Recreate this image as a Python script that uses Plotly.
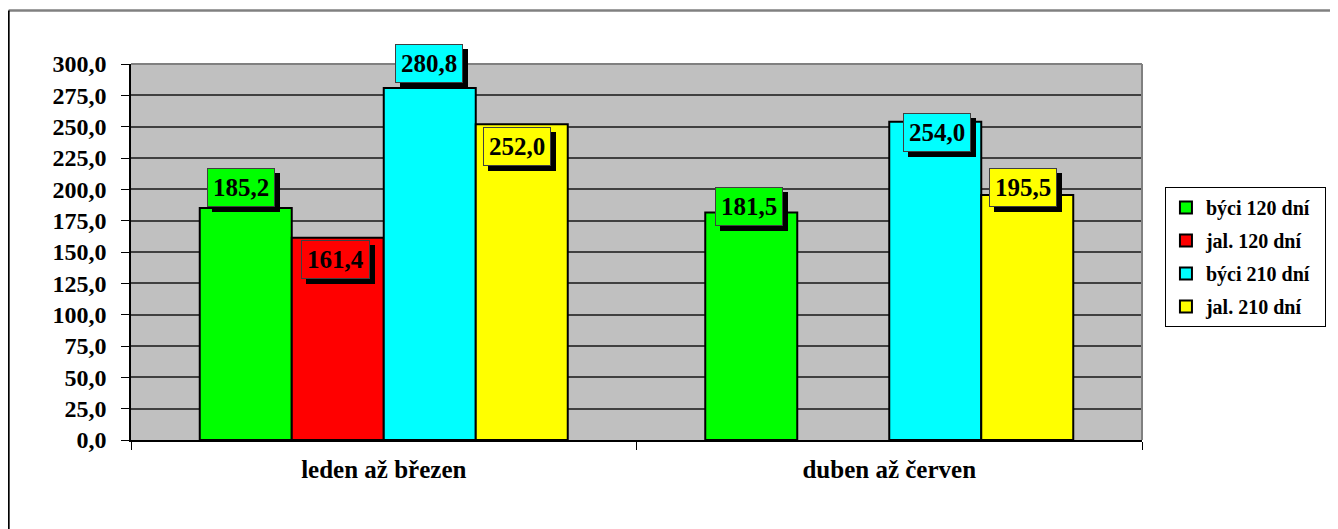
import plotly.graph_objects as go

categories = ["leden až březen", "duben až červen"]
series_names = ["býci 120 dní", "jal. 120 dní", "býci 210 dní", "jal. 210 dní"]
bulls_120 = [185.2, 181.5]
heifers_120 = [161.4, None]
bulls_210 = [280.8, 254.0]
heifers_210 = [252.0, 195.5]
series_values = [bulls_120, heifers_120, bulls_210, heifers_210]
y_ticks = [0, 25, 50, 75, 100, 125, 150, 175, 200, 225, 250, 275, 300]

colors = ["#00FF00", "#FF0000", "#00FFFF", "#FFFF00"]
# label offsets in pixels (x, y) relative to bar top, per series per category
label_dx = [[-5, -2], [-2, 0], [-1, 2], [-5, -4]]
label_dy = [[20, 6], [-22, 0], [25, -11], [-22, 7]]

FONT = "Liberation Serif"
BARGAP = 0.272
W = (1 - BARGAP) / 4
PAD = "\u00a0\u00a0"  # trailing space inside the legend box

fig = go.Figure()
for i, (name, vals) in enumerate(zip(series_names, series_values)):
    fig.add_trace(go.Bar(
        x=categories, y=vals, name=name + PAD,
        marker=dict(color=colors[i], line=dict(color="black", width=2)),
        legendgroup=name,
    ))

annotations = []
for i, vals in enumerate(series_values):
    for c, v in enumerate(vals):
        if v is None:
            continue
        xpos = c + (i - 1.5) * W
        txt = f"<b>{v:.1f}</b>".replace(".", ",")
        common = dict(x=xpos, y=v, xref="x", yref="y", showarrow=False,
                      borderpad=5, borderwidth=1)
        annotations.append(dict(common, text=txt, bgcolor="black", bordercolor="black",
                                font=dict(family=FONT, size=25, color="black"),
                                xshift=label_dx[i][c] + 5, yshift=label_dy[i][c] - 5))
        annotations.append(dict(common, text=txt, bgcolor=colors[i], bordercolor="#404040",
                                font=dict(family=FONT, size=25, color="black"),
                                xshift=label_dx[i][c], yshift=label_dy[i][c]))

fig.update_layout(
    width=1338, height=529,
    margin=dict(l=123, r=204, t=56, b=97, autoexpand=False),
    paper_bgcolor="white", plot_bgcolor="#C0C0C0",
    barmode="group", bargap=BARGAP, bargroupgap=0,
    separators=", ",
    font=dict(family=FONT, color="black"),
    showlegend=True,
    legend=dict(x=1.0227, y=0.673, xanchor="left", yanchor="top",
                bgcolor="white", bordercolor="black", borderwidth=1,
                font=dict(family=FONT, size=20, weight="bold"),
                tracegroupgap=4, traceorder="grouped"),
    annotations=annotations,
    shapes=[
        dict(type="line", xref="paper", yref="paper", x0=1, x1=1, y0=0, y1=1,
             line=dict(color="#808080", width=2)),
        dict(type="line", xref="paper", yref="paper", x0=0, x1=1, y0=1, y1=1,
             line=dict(color="#808080", width=2)),
        dict(type="line", xref="paper", yref="paper", x0=-0.121, x1=1.21, y0=1.1423,
             y1=1.1423, line=dict(color="#808080", width=2.5)),
        dict(type="line", xref="paper", yref="paper", x0=-0.121, x1=-0.121, y0=-0.3,
             y1=1.1423, line=dict(color="black", width=2)),
    ],
)
fig.update_yaxes(range=[0, 300], tickvals=y_ticks, tickformat=".1f",
                 showgrid=True, gridcolor="#404040", gridwidth=1.5,
                 showline=True, linecolor="black", linewidth=1.5,
                 ticks="outside", ticklen=8, tickcolor="black",
                 tickfont=dict(family=FONT, size=24, weight="bold"),
                 zeroline=False, ticklabelstandoff=10)
fig.update_xaxes(showline=True, linecolor="black", linewidth=1.5,
                 ticks="outside", ticklen=8, tickcolor="black", tickson="boundaries",
                 showgrid=False,
                 tickfont=dict(family=FONT, size=25, weight="bold"),
                 ticklabelstandoff=6)

fig.write_html("out.html")
